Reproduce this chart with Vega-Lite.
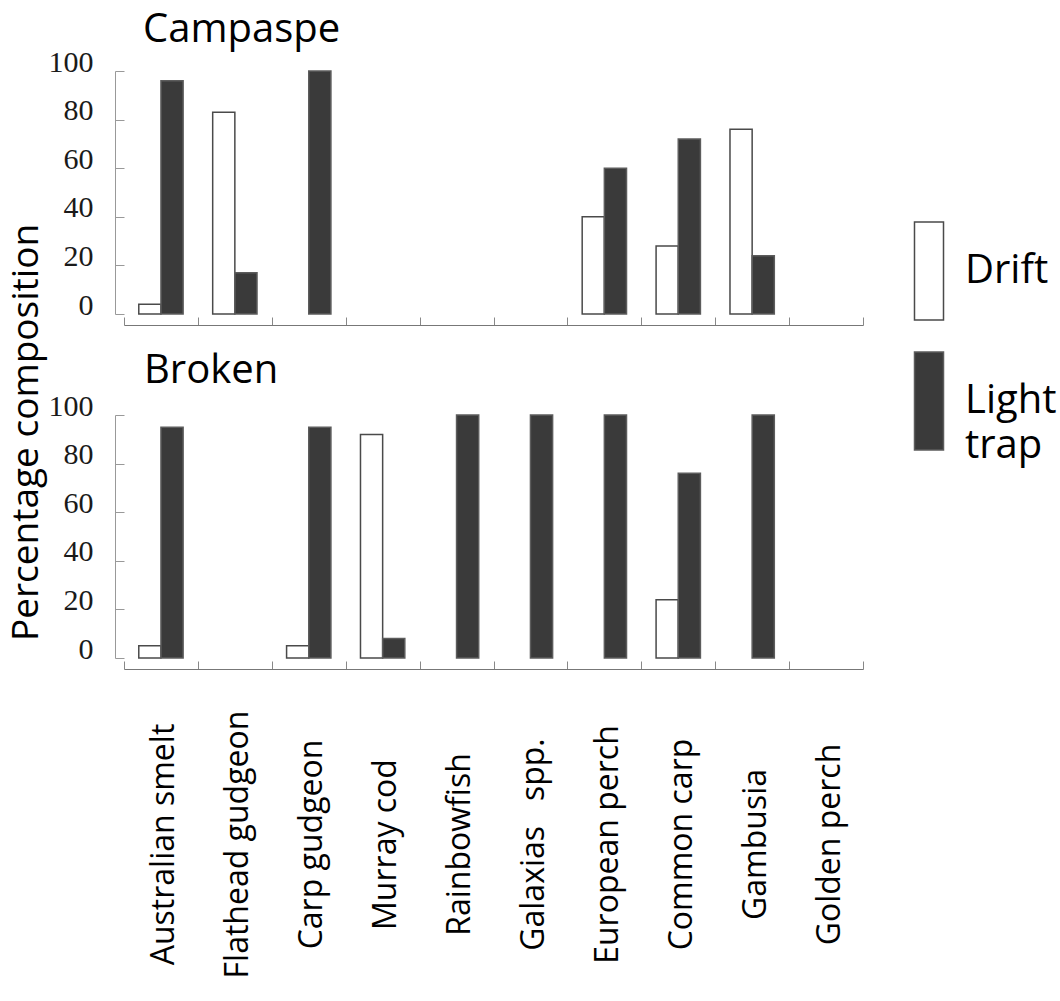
{
  "$schema": "https://vega.github.io/schema/vega-lite/v6.json",
  "background": "white",
  "padding": {"left": 7, "top": 10, "right": 5, "bottom": 2},
  "config": {
    "view": {"stroke": null},
    "font": "Open Sans"
  },
  "datasets": {
    "composition": [
      {"river": "Campaspe", "species": "Australian smelt", "method": "Drift", "pct": 4},
      {"river": "Campaspe", "species": "Australian smelt", "method": "Light trap", "pct": 96},
      {"river": "Campaspe", "species": "Flathead gudgeon", "method": "Drift", "pct": 83},
      {"river": "Campaspe", "species": "Flathead gudgeon", "method": "Light trap", "pct": 17},
      {"river": "Campaspe", "species": "Carp gudgeon", "method": "Light trap", "pct": 100},
      {"river": "Campaspe", "species": "European perch", "method": "Drift", "pct": 40},
      {"river": "Campaspe", "species": "European perch", "method": "Light trap", "pct": 60},
      {"river": "Campaspe", "species": "Common carp", "method": "Drift", "pct": 28},
      {"river": "Campaspe", "species": "Common carp", "method": "Light trap", "pct": 72},
      {"river": "Campaspe", "species": "Gambusia", "method": "Drift", "pct": 76},
      {"river": "Campaspe", "species": "Gambusia", "method": "Light trap", "pct": 24},
      {"river": "Broken", "species": "Australian smelt", "method": "Drift", "pct": 5},
      {"river": "Broken", "species": "Australian smelt", "method": "Light trap", "pct": 95},
      {"river": "Broken", "species": "Carp gudgeon", "method": "Drift", "pct": 5},
      {"river": "Broken", "species": "Carp gudgeon", "method": "Light trap", "pct": 95},
      {"river": "Broken", "species": "Murray cod", "method": "Drift", "pct": 92},
      {"river": "Broken", "species": "Murray cod", "method": "Light trap", "pct": 8},
      {"river": "Broken", "species": "Rainbowfish", "method": "Light trap", "pct": 100},
      {"river": "Broken", "species": "Galaxias spp.", "method": "Light trap", "pct": 100},
      {"river": "Broken", "species": "European perch", "method": "Light trap", "pct": 100},
      {"river": "Broken", "species": "Common carp", "method": "Drift", "pct": 24},
      {"river": "Broken", "species": "Common carp", "method": "Light trap", "pct": 76},
      {"river": "Broken", "species": "Gambusia", "method": "Light trap", "pct": 100}
    ]
  },
  "bounds": "flush",
  "spacing": 101,
  "vconcat": [
    {
      "title": {"text": "Campaspe", "anchor": "start", "frame": "group", "dx": 19, "offset": -35, "baseline": "alphabetic", "font": "Open Sans", "fontSize": 40, "fontWeight": "normal", "color": "black"},
      "width": 739,
      "height": 243,
      "data": {"name": "composition"},
      "transform": [{"filter": "datum.river === 'Campaspe'"}],
      "mark": {"type": "bar", "strokeWidth": 1.5},
      "encoding": {
        "x": {
          "field": "species", "type": "nominal", "sort": null,
          "scale": {"domain": ["Australian smelt", "Flathead gudgeon", "Carp gudgeon", "Murray cod", "Rainbowfish", "Galaxias spp.", "European perch", "Common carp", "Gambusia", "Golden perch"], "paddingInner": 0, "paddingOuter": 0},
          "axis": {"title": null, "labels": false, "offset": 11, "tickSize": -8, "tickBand": "extent", "domainColor": "#777777", "tickColor": "#888888", "grid": false}
        },
        "xOffset": {"field": "method", "type": "nominal", "scale": {"domain": ["Drift", "Light trap"], "paddingInner": 0, "paddingOuter": 0.667}},
        "y": {
          "field": "pct", "type": "quantitative",
          "scale": {"domain": [0, 100], "nice": false},
          "axis": {"title": "Percentage composition", "titleFont": "Open Sans", "titleFontSize": 37, "titleFontWeight": "normal", "titleColor": "black", "titlePadding": 3, "titleY": 361,
                   "values": [0, 20, 40, 60, 80, 100], "offset": 9, "tickSize": -9, "tickColor": "#999999", "domainColor": "#999999", "grid": false,
                   "labelFont": "Liberation Serif", "labelFontSize": 30, "labelColor": "#1a1a1a", "labelPadding": 31, "labelOffset": -9}
        },
        "fill": {
          "field": "method", "type": "nominal",
          "scale": {"domain": ["Drift", "Light trap"], "range": ["#ffffff", "#3a3a3a"]},
          "legend": {"title": null, "orient": "none", "legendX": 755, "legendY": 150, "padding": 0, "symbolType": "M-0.296,-1H0.296V1H-0.296Z", "symbolSize": 9604, "symbolStrokeWidth": 1.5, "rowPadding": 26, "labelFont": "Open Sans", "labelFontSize": 40, "labelColor": "black", "labelOffset": -14, "labelLimit": 0, "labelExpr": "datum.label === 'Light trap' ? ['Light', 'trap'] : datum.label", "encode": {"labels": {"update": {"lineHeight": {"value": 45}}}}}
        },
        "stroke": {
          "field": "method", "type": "nominal",
          "scale": {"domain": ["Drift", "Light trap"], "range": ["#4a4a4a", "#5c5c5c"]},
          "legend": {"title": null, "orient": "none", "legendX": 755, "legendY": 150, "padding": 0, "symbolType": "M-0.296,-1H0.296V1H-0.296Z", "symbolSize": 9604, "symbolStrokeWidth": 1.5, "rowPadding": 26, "labelFont": "Open Sans", "labelFontSize": 40, "labelColor": "black", "labelOffset": -14, "labelLimit": 0, "labelExpr": "datum.label === 'Light trap' ? ['Light', 'trap'] : datum.label", "encode": {"labels": {"update": {"lineHeight": {"value": 45}}}}}
        }
      }
    },
    {
      "title": {"text": "Broken", "anchor": "start", "frame": "group", "dx": 20, "offset": -32, "baseline": "alphabetic", "font": "Open Sans", "fontSize": 40, "fontWeight": "normal", "color": "black"},
      "width": 739,
      "height": 243,
      "data": {"name": "composition"},
      "transform": [{"filter": "datum.river === 'Broken'"}],
      "mark": {"type": "bar", "strokeWidth": 1.5},
      "encoding": {
        "x": {
          "field": "species", "type": "nominal", "sort": null,
          "scale": {"domain": ["Australian smelt", "Flathead gudgeon", "Carp gudgeon", "Murray cod", "Rainbowfish", "Galaxias spp.", "European perch", "Common carp", "Gambusia", "Golden perch"], "paddingInner": 0, "paddingOuter": 0},
          "axis": {"title": null, "offset": 11, "tickSize": -8, "tickBand": "extent", "domainColor": "#777777", "tickColor": "#888888", "grid": false,
                   "labelAngle": -90, "labelAlign": "center", "labelBaseline": "middle", "labelPadding": 183, "labelOffset": 3, "labelLimit": 0,
                   "labelExpr": "datum.label === 'Galaxias spp.' ? 'Galaxias\u00a0\u00a0\u00a0spp.' : datum.label",
                   "labelFont": "Open Sans", "labelFontSize": 32, "labelColor": "black"}
        },
        "xOffset": {"field": "method", "type": "nominal", "scale": {"domain": ["Drift", "Light trap"], "paddingInner": 0, "paddingOuter": 0.667}},
        "y": {
          "field": "pct", "type": "quantitative",
          "scale": {"domain": [0, 100], "nice": false},
          "axis": {"title": null, "values": [0, 20, 40, 60, 80, 100], "offset": 9, "tickSize": -9, "tickColor": "#999999", "domainColor": "#999999", "grid": false,
                   "labelFont": "Liberation Serif", "labelFontSize": 30, "labelColor": "#1a1a1a", "labelPadding": 31, "labelOffset": -9}
        },
        "fill": {"field": "method", "type": "nominal"},
        "stroke": {"field": "method", "type": "nominal"}
      }
    }
  ]
}
